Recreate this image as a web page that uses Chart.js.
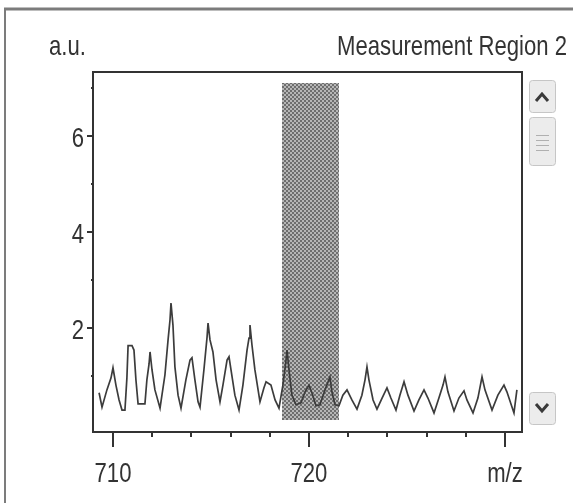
<!DOCTYPE html>
<html>
<head>
<meta charset="utf-8">
<script src="https://cdn.jsdelivr.net/npm/chart.js@4.4.1/dist/chart.umd.min.js"></script>
<style>
  html, body { margin: 0; padding: 0; background: #fff; }
  #spectrum { display: block; }
</style>
</head>
<body>
<canvas id="spectrum" width="579" height="503"></canvas>
<script>
// trace: m/z and intensity (a.u.)
const mz = [
  709.29, 709.44, 709.69, 709.90, 710.00, 710.15, 710.31, 710.46, 710.61, 710.71,
  710.77, 710.97, 711.07, 711.17, 711.28, 711.63, 711.73, 711.84, 711.89, 711.99,
  712.14, 712.40, 712.65, 712.81, 712.91, 712.96, 713.06, 713.16, 713.32, 713.47,
  713.72, 713.93, 714.03, 714.18, 714.34, 714.44, 714.64, 714.80, 714.85, 714.95,
  715.10, 715.26, 715.46, 715.61, 715.82, 715.92, 716.02, 716.22, 716.43, 716.63,
  716.84, 716.94, 716.99, 717.09, 717.24, 717.50, 717.70, 717.81, 718.06, 718.27,
  718.47, 718.67, 718.83, 718.88, 718.98, 719.13, 719.34, 719.59, 719.80, 720.00,
  720.15, 720.36, 720.56, 720.82, 721.07, 721.17, 721.33, 721.53, 721.73, 721.94,
  722.19, 722.45, 722.70, 722.86, 722.96, 723.06, 723.27, 723.47, 723.73, 723.98,
  724.18, 724.44, 724.64, 724.85, 725.05, 725.36, 725.61, 725.87, 726.07, 726.38,
  726.63, 726.84, 726.94, 727.09, 727.40, 727.65, 727.91, 728.06, 728.37, 728.62,
  728.83, 728.98, 729.34, 729.64, 729.95, 730.10, 730.46, 730.61
];
const intensity = [
  0.65, 0.35, 0.71, 0.96, 1.17, 0.81, 0.50, 0.29, 0.29, 0.96,
  1.63, 1.63, 1.54, 0.92, 0.42, 0.42, 0.92, 1.25, 1.50, 1.13,
  0.71, 0.33, 1.02, 1.75, 2.17, 2.52, 2.06, 1.19, 0.60, 0.33,
  0.92, 1.33, 1.38, 0.92, 0.46, 0.35, 1.13, 1.81, 2.10, 1.75,
  1.50, 0.92, 0.46, 0.81, 1.33, 1.40, 1.13, 0.60, 0.29, 0.81,
  1.54, 1.79, 2.06, 1.65, 1.13, 0.46, 0.75, 0.88, 0.81, 0.50,
  0.33, 0.81, 1.33, 1.54, 1.13, 0.60, 0.40, 0.44, 0.67, 0.81,
  0.65, 0.38, 0.40, 0.71, 0.98, 0.67, 0.40, 0.38, 0.60, 0.71,
  0.50, 0.31, 0.60, 0.92, 1.19, 0.92, 0.50, 0.31, 0.54, 0.75,
  0.54, 0.29, 0.60, 0.88, 0.60, 0.27, 0.50, 0.71, 0.54, 0.23,
  0.54, 0.81, 0.98, 0.67, 0.27, 0.54, 0.69, 0.50, 0.23, 0.54,
  0.98, 0.71, 0.29, 0.60, 0.81, 0.67, 0.23, 0.71
];

const xTicks = [710, 712, 714, 716, 718, 720, 722, 724, 726, 728, 730];
const xLabels = { 710: '710', 720: '720', 730: 'm/z' };
const yTicks = [1, 2, 3, 4, 5, 6, 7];
const yLabels = [2, 4, 6];

// shaded measurement window (m/z from-to, intensity from-to)
const windowMz = [718.62, 721.53];
const windowLevel = [0.08, 7.1];

// the original uses a narrow sans; squeeze Liberation Sans sideways instead
const FONT = "28px 'Liberation Sans', Arial, sans-serif";
const SQUEEZE = 0.79;
const INK = '#333';

function checker() {
  const c = document.createElement('canvas');
  c.width = 4; c.height = 4;
  const g = c.getContext('2d');
  g.fillStyle = '#b6b6b6';
  g.fillRect(0, 0, 4, 4);
  g.fillStyle = '#6e6e6e';
  g.fillRect(0, 0, 2, 2);
  g.fillRect(2, 2, 2, 2);
  return c;
}

function button(ctx, x, y, w, h) {
  ctx.fillStyle = '#ececec';
  ctx.strokeStyle = '#c6c6c6';
  ctx.lineWidth = 1;
  ctx.beginPath();
  ctx.roundRect(x + 0.5, y + 0.5, w, h, 3);
  ctx.fill();
  ctx.stroke();
}

function label(ctx, text, x, y, align, baseline) {
  ctx.save();
  ctx.translate(x, y);
  ctx.scale(SQUEEZE, 1);
  ctx.font = FONT;
  ctx.fillStyle = INK;
  ctx.textAlign = align;
  ctx.textBaseline = baseline;
  ctx.fillText(text, 0, 0);
  ctx.restore();
}

const decor = {
  id: 'decor',
  beforeDatasetsDraw(chart) {
    const { ctx, scales: { x, y } } = chart;
    const x0 = x.getPixelForValue(windowMz[0]);
    const x1 = x.getPixelForValue(windowMz[1]);
    const y0 = y.getPixelForValue(windowLevel[1]);
    const y1 = y.getPixelForValue(windowLevel[0]);
    ctx.save();
    ctx.fillStyle = ctx.createPattern(checker(), 'repeat');
    ctx.fillRect(Math.round(x0), Math.round(y0), Math.round(x1 - x0), Math.round(y1 - y0));
    ctx.restore();
  },
  afterDraw(chart) {
    const { ctx, chartArea: a, scales: { x, y } } = chart;
    ctx.save();

    // plot box
    ctx.strokeStyle = INK;
    ctx.lineWidth = 2;
    ctx.strokeRect(a.left, a.top, a.right - a.left, a.bottom - a.top);

    // tick marks, long ones where a label sits
    ctx.beginPath();
    x.ticks.forEach(t => {
      const px = Math.round(x.getPixelForValue(t.value));
      const len = xLabels[t.value] ? 15 : 5;
      ctx.moveTo(px, a.bottom);
      ctx.lineTo(px, a.bottom + len);
    });
    y.ticks.forEach(t => {
      const py = Math.round(y.getPixelForValue(t.value));
      const len = yLabels.includes(t.value) ? 6 : 2;
      ctx.moveTo(a.left - len, py);
      ctx.lineTo(a.left, py);
    });
    ctx.stroke();

    // tick labels
    x.ticks.forEach(t => {
      if (xLabels[t.value]) {
        label(ctx, xLabels[t.value], x.getPixelForValue(t.value), 482, 'center', 'alphabetic');
      }
    });
    y.ticks.forEach(t => {
      if (yLabels.includes(t.value)) {
        label(ctx, String(t.value), 84, y.getPixelForValue(t.value) + 11, 'right', 'alphabetic');
      }
    });

    // header texts
    label(ctx, 'a.u.', 49, 55, 'left', 'alphabetic');
    label(ctx, 'Measurement Region 2', 567, 55, 'right', 'alphabetic');

    // outer panel frame
    ctx.strokeStyle = '#7c7c7c';
    ctx.lineWidth = 3;
    ctx.beginPath();
    ctx.moveTo(4, 9);
    ctx.lineTo(573, 9);
    ctx.stroke();
    ctx.lineWidth = 2;
    ctx.beginPath();
    ctx.moveTo(5, 9);
    ctx.lineTo(5, 503);
    ctx.stroke();

    // scroll buttons
    button(ctx, 529, 80, 26, 32);
    button(ctx, 529, 117, 26, 48);
    button(ctx, 529, 392, 26, 32);
    ctx.strokeStyle = '#3a3a3a';
    ctx.lineWidth = 3;
    ctx.beginPath();
    ctx.moveTo(536, 101); ctx.lineTo(542, 94); ctx.lineTo(548, 101);
    ctx.moveTo(536, 404); ctx.lineTo(542, 411); ctx.lineTo(548, 404);
    ctx.stroke();
    ctx.strokeStyle = '#b0b0b0';
    ctx.lineWidth = 1;
    ctx.beginPath();
    [135, 140, 145, 150].forEach(yy => {
      ctx.moveTo(536, yy + 0.5); ctx.lineTo(549, yy + 0.5);
    });
    ctx.stroke();

    ctx.restore();
  }
};

const ctx = document.getElementById('spectrum').getContext('2d');
const spectrum = new Chart(ctx, {
  type: 'line',
  data: {
    datasets: [{
      data: mz.map((m, i) => ({ x: m, y: intensity[i] })),
      borderColor: '#3c3c3c',
      borderWidth: 1.7,
      pointRadius: 0,
      tension: 0
    }]
  },
  options: {
    responsive: false,
    animation: false,
    layout: { padding: { left: 0, right: 57, top: 72, bottom: 0 } },
    plugins: { legend: { display: false }, tooltip: { enabled: false } },
    scales: {
      x: {
        type: 'linear',
        min: 708.98,
        max: 730.87,
        afterFit: s => { s.height = 71; },
        afterBuildTicks: s => { s.ticks = xTicks.map(v => ({ value: v })); },
        grid: { display: false, drawTicks: false },
        border: { display: false },
        ticks: { display: false }
      },
      y: {
        min: -0.167,
        max: 7.33,
        afterFit: s => { s.width = 93; },
        afterBuildTicks: s => { s.ticks = yTicks.map(v => ({ value: v })); },
        grid: { display: false, drawTicks: false },
        border: { display: false },
        ticks: { display: false }
      }
    }
  },
  plugins: [decor]
});
</script>
</body>
</html>
